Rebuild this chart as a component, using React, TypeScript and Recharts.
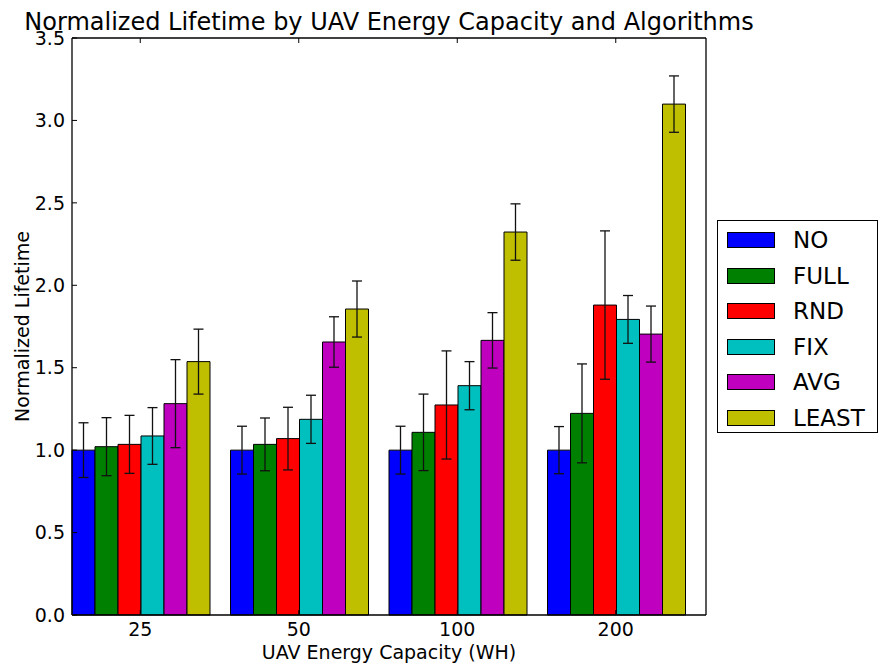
import { BarChart, Bar, XAxis, YAxis, ErrorBar } from "recharts";

const capacities = ["25", "50", "100", "200"];

const noValues = [1.0, 1.0, 1.0, 1.0];
const noErrors = [0.166, 0.145, 0.145, 0.143];
const fullValues = [1.021, 1.035, 1.108, 1.223];
const fullErrors = [0.176, 0.16, 0.232, 0.3];
const rndValues = [1.035, 1.07, 1.274, 1.88];
const rndErrors = [0.176, 0.19, 0.328, 0.45];
const fixValues = [1.086, 1.187, 1.391, 1.793];
const fixErrors = [0.172, 0.146, 0.146, 0.145];
const avgValues = [1.282, 1.656, 1.666, 1.704];
const avgErrors = [0.267, 0.153, 0.168, 0.17];
const leastValues = [1.537, 1.856, 2.323, 3.099];
const leastErrors = [0.197, 0.17, 0.171, 0.171];

const yTicks = [0, 0.5, 1.0, 1.5, 2.0, 2.5, 3.0, 3.5];

const series = [
  { key: "NO", color: "#0000ff", values: noValues, errors: noErrors },
  { key: "FULL", color: "#008000", values: fullValues, errors: fullErrors },
  { key: "RND", color: "#ff0000", values: rndValues, errors: rndErrors },
  { key: "FIX", color: "#00bfbf", values: fixValues, errors: fixErrors },
  { key: "AVG", color: "#bf00bf", values: avgValues, errors: avgErrors },
  { key: "LEAST", color: "#bfbf00", values: leastValues, errors: leastErrors },
];

const data = capacities.map((c, i) => {
  const row: Record<string, string | number> = { capacity: c };
  series.forEach((s) => {
    row[s.key] = s.values[i];
    row[s.key + "Err"] = s.errors[i];
  });
  return row;
});

const FONT = "'DejaVu Sans', sans-serif";
const tickStyle = { fontSize: 19, fill: "#000", fontFamily: FONT };
const axisPad = { left: -11, right: 11 };

function Legend() {
  return (
    <div
      style={{
        position: "absolute",
        left: 717,
        top: 220,
        width: 159,
        height: 211,
        border: "1px solid #000",
        background: "#fff",
        fontFamily: FONT,
        fontSize: 23,
      }}
    >
      {series.map((s, i) => (
        <div key={s.key} style={{ position: "absolute", left: 0, top: 19 + i * 35.6, width: 159 }}>
          <div
            style={{
              position: "absolute",
              left: 9,
              top: -8,
              width: 46,
              height: 14,
              background: s.color,
              border: "1px solid #000",
            }}
          />
          <div style={{ position: "absolute", left: 75, top: -14, lineHeight: "28px", whiteSpace: "nowrap" }}>
            {s.key}
          </div>
        </div>
      ))}
    </div>
  );
}

export default function App() {
  return (
    <div style={{ position: "absolute", left: 0, top: 0, width: 880, height: 668, background: "#fff" }}>
      <BarChart
        width={880}
        height={668}
        data={data}
        margin={{ top: 0, right: 0, bottom: 0, left: 0 }}
        barGap={0}
        barCategoryGap={11}
      >
        <XAxis
          dataKey="capacity"
          height={53}
          padding={axisPad}
          tick={tickStyle}
          tickSize={-5}
          tickMargin={13}
          stroke="#000"
          axisLine={{ stroke: "#000", strokeWidth: 1.3 }}
          tickLine={{ stroke: "#000" }}
          label={{
            content: (p: any) => (
              <text
                x={p.viewBox.x + p.viewBox.width / 2}
                y={p.viewBox.y + 44}
                textAnchor="middle"
                fontSize={19}
                fontFamily={FONT}
                fill="#000"
              >
                UAV Energy Capacity (WH)
              </text>
            ),
          }}
        />
        <XAxis
          xAxisId="top"
          dataKey="capacity"
          orientation="top"
          height={38}
          padding={axisPad}
          tickSize={-5}
          tickFormatter={() => ""}
          axisLine={{ stroke: "#000", strokeWidth: 1.3 }}
          tickLine={{ stroke: "#000" }}
          label={{
            content: (p: any) => (
              <text
                x={p.viewBox.x + p.viewBox.width / 2}
                y={30}
                textAnchor="middle"
                fontSize={24}
                fontFamily={FONT}
                fill="#000"
              >
                Normalized Lifetime by UAV Energy Capacity and Algorithms
              </text>
            ),
          }}
        />
        <YAxis
          width={72}
          domain={[0, 3.5]}
          ticks={yTicks}
          tickFormatter={(v: number) => v.toFixed(1)}
          tick={tickStyle}
          tickSize={-5}
          tickMargin={12}
          axisLine={{ stroke: "#000", strokeWidth: 1.3 }}
          tickLine={{ stroke: "#000" }}
          label={{
            content: (p: any) => {
              const cy = p.viewBox.y + p.viewBox.height / 2;
              return (
                <text
                  x={29}
                  y={cy}
                  transform={`rotate(-90, 29, ${cy})`}
                  textAnchor="middle"
                  fontSize={19}
                  fontFamily={FONT}
                  fill="#000"
                >
                  Normalized Lifetime
                </text>
              );
            },
          }}
        />
        <YAxis
          yAxisId="right"
          orientation="right"
          width={174}
          domain={[0, 3.5]}
          ticks={yTicks}
          tickSize={-5}
          tickFormatter={() => ""}
          axisLine={{ stroke: "#000", strokeWidth: 1.3 }}
          tickLine={{ stroke: "#000" }}
        />
        {series.map((s) => (
          <Bar
            key={s.key}
            dataKey={s.key}
            fill={s.color}
            stroke="#000"
            strokeWidth={1}
            isAnimationActive={false}
          >
            <ErrorBar dataKey={s.key + "Err"} width={5} stroke="#111" strokeWidth={1.3} direction="y" />
          </Bar>
        ))}
      </BarChart>
      <Legend />
    </div>
  );
}
